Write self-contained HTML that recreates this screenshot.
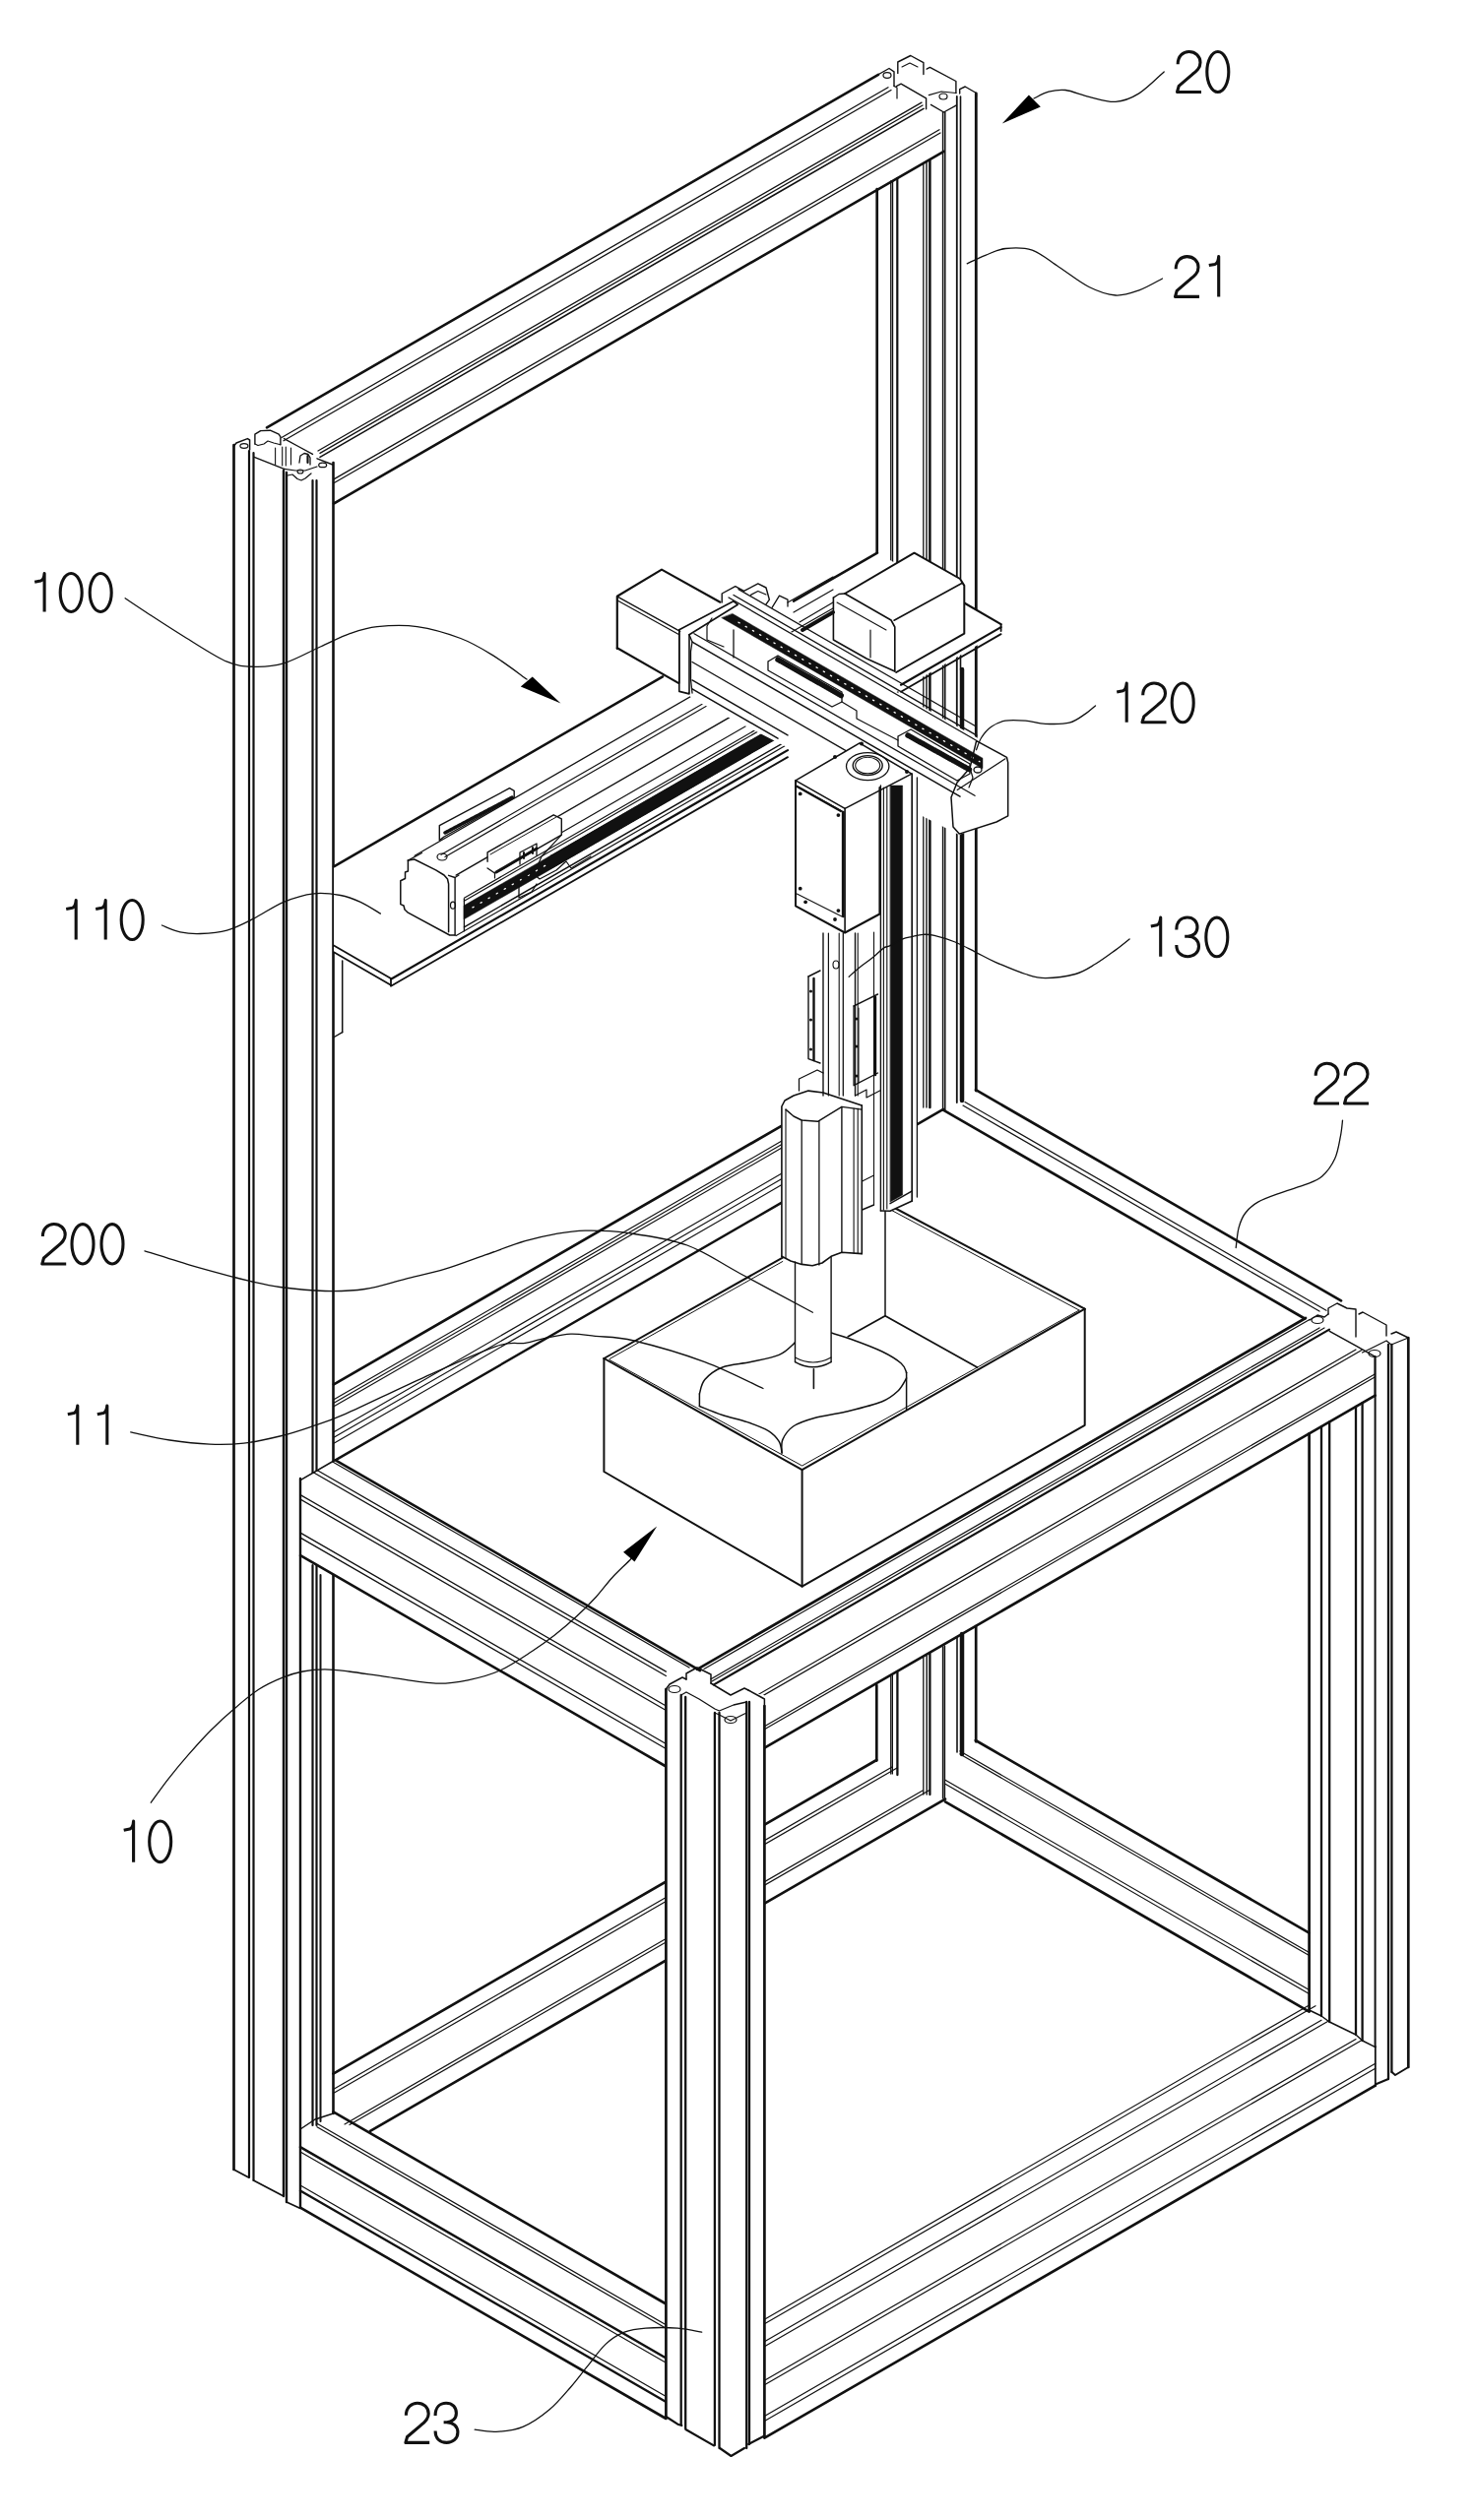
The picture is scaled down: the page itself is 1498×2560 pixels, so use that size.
<!DOCTYPE html>
<html><head><meta charset="utf-8"><style>
html,body{margin:0;padding:0;background:#fff;}
svg{display:block;}
text{font-family:"Liberation Sans",sans-serif;fill:#111;}
</style></head><body>
<svg width="1498" height="2560" viewBox="0 0 1498 2560" xmlns="http://www.w3.org/2000/svg">
<g stroke="#111" stroke-linecap="round" stroke-linejoin="round" fill="none">
<path d="M890.7 192 L890.7 1110" stroke-width="2.7" fill="none"/>
<path d="M904.8 184 L904.8 1110" stroke-width="1.4" fill="none"/>
<path d="M906.6 184 L906.6 1110" stroke-width="1.2" fill="none"/>
<path d="M911.3 181 L911.3 1110" stroke-width="2.2" fill="none"/>
<path d="M937.8 166 L937.8 1125" stroke-width="1.3" fill="none"/>
<path d="M941 165 L941 1125" stroke-width="1.4" fill="none"/>
<path d="M944.4 163 L944.4 1125" stroke-width="2.5" fill="none"/>
<path d="M957.6 114 L957.6 1128" stroke-width="1.5" fill="none"/>
<path d="M959.8 114 L959.8 1128" stroke-width="1.5" fill="none"/>
<path d="M971.8 98 L971.8 1120" stroke-width="1.8" fill="none"/>
<path d="M975.5 98 L975.5 680" stroke-width="1.6" fill="none"/>
<path d="M977 680 L977 1118" stroke-width="4.5" fill="none"/>
<path d="M991.3 95 L991.3 1108" stroke-width="2.8" fill="none"/>
<path d="M892.3 75.5 L903 69.5 L908 72.8 L908 87.4" stroke-width="1.4" fill="none"/>
<ellipse cx="901" cy="76.5" rx="4" ry="2.8" stroke-width="1.2" fill="none"/>
<path d="M911.8 74.4 L911.8 63 L924.8 56.5 L937.9 63.6 L937.9 75.5" stroke-width="1.4" fill="none"/>
<path d="M916 68 L924 64 L932 68" stroke-width="1.1" fill="none"/>
<path d="M941.1 70.1 L944.4 68.4 L970.9 82.5 L970.9 94.5" stroke-width="1.4" fill="none"/>
<path d="M974.7 95 L974.7 90.7 L980.2 88 L991.5 94.5 L991.5 98" stroke-width="1.4" fill="none"/>
<path d="M910.7 87.4 L915.1 85.2 L940.6 99.9 L940.6 110.7" stroke-width="1.4" fill="none"/>
<path d="M945.4 106.4 L958.5 114 L971.5 106.9" stroke-width="1.3" fill="none"/>
<path d="M943.3 96.6 L956 93 L970.9 94.5" stroke-width="1.2" fill="none"/>
<ellipse cx="958" cy="98" rx="4" ry="3" stroke-width="1.2" fill="none"/>
<path d="M908 87.4 L911 89 L911 100" stroke-width="1.2" fill="none"/>
<path d="M237.3 453.5 L240 450 L251.4 445.6 L253.6 447 L253.6 457" stroke-width="1.5" fill="none"/>
<ellipse cx="247.9" cy="453" rx="4" ry="2.3" stroke-width="1.2" fill="none"/>
<path d="M258.9 451 L258.9 441.2 L264.7 437.6 L274.4 437.2 L283.2 441.2 L284.9 443.8 L284.9 451.7" stroke-width="1.4" fill="none"/>
<path d="M258.9 451 L262 452.5 L268 451 L272 448 L278 450 L284.9 451.7" stroke-width="1.1" fill="none"/>
<path d="M257.6 464.1 L288.5 476.4" stroke-width="1.4" fill="none"/>
<path d="M288.5 445.6 L303 453.5 L317.5 461.4" stroke-width="1.4" fill="none"/>
<path d="M322 465.8 L337.8 472" stroke-width="1.4" fill="none"/>
<ellipse cx="327.7" cy="472.4" rx="4" ry="2.3" stroke-width="1.2" fill="none"/>
<path d="M279.6 455 L279.6 472" stroke-width="1.1" fill="none"/>
<path d="M286.7 454 L286.7 473" stroke-width="1.1" fill="none"/>
<path d="M290.3 454 L290.3 473" stroke-width="1.1" fill="none"/>
<path d="M295.5 455 L295.5 472" stroke-width="1.1" fill="none"/>
<path d="M288.5 476.4 L300 478 L310 478 L322 474" stroke-width="1.2" fill="none"/>
<path d="M304 470 L305 463 L309 460.5 L313 461.5 L315 465 L315 472" stroke-width="1.3" fill="none"/>
<path d="M312.5 463 L312.5 470" stroke-width="2.2" fill="none"/>
<path d="M292 483 L297 482 L302 486.5 L306 488 L310 486 L316 481" stroke-width="1.2" fill="none"/>
<ellipse cx="305" cy="479" rx="3" ry="2" stroke-width="1.1" fill="none"/>
<path d="M890.3 1712 L890.3 1788.6" stroke-width="2.7" fill="none"/>
<path d="M904.8 1703 L904.8 1802" stroke-width="1.4" fill="none"/>
<path d="M906.4 1702 L906.4 1802" stroke-width="1.2" fill="none"/>
<path d="M911.4 1699 L911.4 1803" stroke-width="2.3" fill="none"/>
<path d="M937.8 1684 L937.8 1823" stroke-width="1.3" fill="none"/>
<path d="M941.2 1682 L941.2 1823" stroke-width="1.4" fill="none"/>
<path d="M944.4 1680 L944.4 1823" stroke-width="2.3" fill="none"/>
<path d="M957.6 1673 L957.6 1827" stroke-width="1.5" fill="none"/>
<path d="M959.4 1672 L959.4 1827" stroke-width="1.5" fill="none"/>
<path d="M972 1663 L972 1780" stroke-width="1.6" fill="none"/>
<path d="M977 1660 L977 1782" stroke-width="4.5" fill="none"/>
<path d="M991.2 1652 L991.2 1769.3" stroke-width="2.7" fill="none"/>
<path d="M271 434.3 L892 75.8" stroke-width="2.6" fill="none"/>
<path d="M286 444.5 L902 88.8" stroke-width="1.3" fill="none"/>
<path d="M288 447.7 L905 91.5" stroke-width="1.3" fill="none"/>
<path d="M323 458 L936 104.1" stroke-width="1.3" fill="none"/>
<path d="M325 460.4 L937 107" stroke-width="1.3" fill="none"/>
<path d="M325 464.4 L938 110.4" stroke-width="1.6" fill="none"/>
<path d="M339 486.9 L954 131.8" stroke-width="1.3" fill="none"/>
<path d="M339 490.7 L955 135" stroke-width="1.3" fill="none"/>
<path d="M339 511.5 L958.5 153.8" stroke-width="2.6" fill="none"/>
<path d="M237.5 452 L237.5 2204" stroke-width="2.7" fill="none"/>
<path d="M253 458 L253 2212" stroke-width="2.2" fill="none"/>
<path d="M257.5 460 L257.5 2215" stroke-width="2.2" fill="none"/>
<path d="M288 478 L288 2231" stroke-width="2.4" fill="none"/>
<path d="M291 480 L291 2237" stroke-width="2.4" fill="none"/>
<path d="M317.5 488 L317.5 1496" stroke-width="2.2" fill="none"/>
<path d="M317.5 1590 L317.5 2159" stroke-width="2.2" fill="none"/>
<path d="M321.5 488 L321.5 1494" stroke-width="2.2" fill="none"/>
<path d="M321.5 1590 L321.5 2159" stroke-width="2.2" fill="none"/>
<path d="M325.5 1600 L325.5 2155" stroke-width="2" fill="none"/>
<path d="M338.5 470 L338.5 1484" stroke-width="2.6" fill="none"/>
<path d="M338.5 1600 L338.5 2147" stroke-width="2.6" fill="none"/>
<path d="M305 1502 L305 2243" stroke-width="2.4" fill="none"/>
<path d="M237.5 2204 L252.5 2212" stroke-width="1.8" fill="none"/>
<path d="M257.5 2215 L287 2230.5" stroke-width="1.8" fill="none"/>
<path d="M291 2237 L304 2243" stroke-width="1.8" fill="none"/>
<path d="M339 1406.3 L794 1143.6" stroke-width="2.7" fill="none"/>
<path d="M339 1421.8 L794 1159.1" stroke-width="1.2" fill="none"/>
<path d="M339 1425.3 L794 1162.6" stroke-width="1.2" fill="none"/>
<path d="M339 1428.8 L794 1166.1" stroke-width="1.2" fill="none"/>
<path d="M339 1454.8 L794 1192.1" stroke-width="1.2" fill="none"/>
<path d="M339 1460.3 L794 1197.6" stroke-width="1.2" fill="none"/>
<path d="M339 1466.3 L794 1203.6" stroke-width="1.2" fill="none"/>
<path d="M341 1483.1 L794 1221.6" stroke-width="2.4" fill="none"/>
<path d="M926 1145.4 L958 1126.9" stroke-width="2.5" fill="none"/>
<path d="M991 1107.2 L1362 1321.4" stroke-width="2.7" fill="none"/>
<path d="M980 1119.4 L1347 1331.3" stroke-width="1.2" fill="none"/>
<path d="M978 1123.1 L1340 1332.1" stroke-width="1.2" fill="none"/>
<path d="M958 1127.6 L1325 1339.5" stroke-width="2.7" fill="none"/>
<path d="M338.5 2106.6 L890.2 1788" stroke-width="2.7" fill="none"/>
<path d="M338.5 2122.6 L906 1794.9" stroke-width="1.2" fill="none"/>
<path d="M338.5 2126.6 L911 1796" stroke-width="1.2" fill="none"/>
<path d="M350 2157.9 L937 1819" stroke-width="1.2" fill="none"/>
<path d="M355 2158.5 L944 1818.5" stroke-width="1.2" fill="none"/>
<path d="M376 2164.9 L960 1827.7" stroke-width="2.7" fill="none"/>
<path d="M990.8 1768 L1329.6 1963.6" stroke-width="2.7" fill="none"/>
<path d="M975 1778.9 L1329.6 1983.6" stroke-width="1.2" fill="none"/>
<path d="M975 1781.9 L1329.6 1986.6" stroke-width="1.2" fill="none"/>
<path d="M960 1808.3 L1329.6 2021.6" stroke-width="1.2" fill="none"/>
<path d="M960 1812.3 L1329.6 2025.6" stroke-width="1.2" fill="none"/>
<path d="M960 1830.3 L1329.6 2043.6" stroke-width="2.7" fill="none"/>
<path d="M339 880 L891 561.6 L1016.6 634.2 L1016.6 641.5 L397 1001 L339 967 Z" stroke="none" fill="#fff"/>
<path d="M339 880.3 L673 687.4" stroke-width="2.5" fill="none"/>
<path d="M806 610.7 L891 561.6" stroke-width="2.5" fill="none"/>
<path d="M397 994.8 L800 762.1" stroke-width="2.2" fill="none"/>
<path d="M397 1001.8 L800 769.1" stroke-width="1.8" fill="none"/>
<path d="M915 695.7 L1016.6 637.1" stroke-width="2.2" fill="none"/>
<path d="M915 702.7 L1016.6 644.1" stroke-width="1.8" fill="none"/>
<path d="M339 960.5 L397 994" stroke-width="1.8" fill="none"/>
<path d="M339 967.2 L397 1000.7" stroke-width="1.8" fill="none"/>
<path d="M397 994 L397 1001" stroke-width="1.8" fill="none"/>
<path d="M1016.6 634.2 L1016.6 641" stroke-width="1.8" fill="none"/>
<path d="M978 611.8 L1016.6 634.1" stroke-width="2.2" fill="none"/>
<path d="M347.7 976 L347.7 1048.7" stroke-width="1.5" fill="none"/>
<path d="M347.7 1048.7 L338.5 1054" stroke-width="1.4" fill="none"/>
<path d="M846 600 L858 603 L928.5 561.7 L979.3 590 L979.3 648 L910.2 683 L846 650 Z" stroke="none" fill="#fff"/>
<path d="M858 603 L928.5 561.7 L975 588 L979.3 594.9 L979.3 643.7 L910.2 683" stroke-width="2" fill="none"/>
<path d="M908 630.2 L977.3 592.2" stroke-width="1.6" fill="none"/>
<path d="M858 603 L905 630 L908.8 637 L908.8 682" stroke-width="1.6" fill="none"/>
<path d="M846.4 607.1 L846.4 650 L880 669 L908.8 682" stroke-width="1.6" fill="none"/>
<path d="M846.4 607.1 L852 603.5 L858 603" stroke-width="1.4" fill="none"/>
<path d="M850 612 L900 640" stroke-width="1.1" fill="none"/>
<path d="M884 640 L884 668" stroke-width="1.2" fill="none"/>
<path d="M800 612 L846 586" stroke-width="1.2" fill="none"/>
<path d="M806 622 L846 599" stroke-width="1.2" fill="none"/>
<path d="M812 632 L846 612" stroke-width="1.2" fill="none"/>
<path d="M815 640 L846 622" stroke-width="4" fill="none"/>
<path d="M790 650 L846 618" stroke-width="1.2" fill="none"/>
<path d="M446.3 853.6 L446.3 838.6 L517.5 800.7 L522.2 803.4 L522.2 810.2 L451 850 L446.3 853.6" stroke-width="1.4" fill="none"/>
<path d="M452 846 L520 810" stroke-width="3.5" stroke-dasharray="1.3 1.1" fill="none"/>
<path d="M406.8 894.7 L414.4 874.1 L428.5 866.5 L455.6 880 L462.1 889 L471.4 890 L471.4 946 L462.1 950 L456.7 950 L406.8 921 Z" stroke="none" fill="#fff"/>
<path d="M414.4 874.1 L420.9 873 L442.6 883.9 L451 889 L454.5 893 L455.6 898 L455.6 946.8" stroke-width="1.5" fill="none"/>
<path d="M414.4 874.1 L414.4 885 L411.5 886 L411.5 892.5 L406.8 894.7 L406.8 918.6 L410 920 L411 924 L414.4 927.2 L456.7 950 L462.1 950" stroke-width="1.5" fill="none"/>
<path d="M414.4 874.1 L428.5 866.5" stroke-width="1.3" fill="none"/>
<path d="M455.6 889.3 L462.1 891.5 L462.1 950" stroke-width="1.4" fill="none"/>
<path d="M471.4 913.2 L471.4 945.8" stroke-width="1.3" fill="none"/>
<path d="M462.1 891.5 L466 889" stroke-width="1.2" fill="none"/>
<ellipse cx="460" cy="919.7" rx="2.5" ry="3.5" stroke-width="1.2" fill="none"/>
<ellipse cx="449" cy="870.5" rx="5" ry="3.5" stroke-width="1.2" fill="none"/>
<path d="M421.2 869.3 L800 650.6" stroke-width="1.3" fill="none"/>
<path d="M448 868.3 L790 670.9" stroke-width="1.2" fill="none"/>
<path d="M452 870.5 L790 675.4" stroke-width="1.2" fill="none"/>
<path d="M463.2 889.1 L800 694.6" stroke-width="1.4" fill="none"/>
<path d="M560 851.7 L800 713.1" stroke-width="1.2" fill="none"/>
<path d="M471.4 912.3 L800 722.6" stroke-width="1.2" fill="none"/>
<path d="M471.4 915.3 L800 725.6" stroke-width="1.2" fill="none"/>
<path d="M471.4 919.8 L560 868.7 L560 882.7 L471.4 933.8Z" stroke-width="0.5" fill="#111"/>
<path d="M480 921.9 L555 878.6" stroke="#fff" stroke-width="1.3" stroke-dasharray="1.3 8" fill="none"/>
<path d="M560 875.7 L800 737.1" stroke-width="12" stroke-dasharray="1.6 1.2" fill="none"/>
<path d="M560 869.2 L800 730.6" stroke-width="1.4" fill="none"/>
<path d="M560 882.2 L800 743.6" stroke-width="1.4" fill="none"/>
<path d="M471.4 941.8 L800 752.1" stroke-width="1.4" fill="none"/>
<path d="M463.2 950.6 L800 756.1" stroke-width="1.2" fill="none"/>
<path d="M495.1 865.8 L562.2 827.8 L570.3 831.9 L570.3 852 L502.5 890.2 L495.1 886 Z" stroke="none" fill="#fff"/>
<path d="M495.1 875.3 L495.1 865.8 L562.2 827.8 L570.3 831.9 L570.3 848.1 L502.5 887 L495.1 882" stroke-width="1.4" fill="none"/>
<path d="M502.5 887 L502.5 892" stroke-width="1.2" fill="none"/>
<path d="M498 868 L565 830" stroke-width="1" fill="none"/>
<path d="M504 886 L545 862" stroke-width="3" fill="none"/>
<path d="M528 878 L528 866 L545 857 L545 869" stroke-width="1.3" fill="none"/>
<path d="M532 872 L532 866" stroke-width="2" fill="none"/>
<path d="M541 867 L541 861" stroke-width="2" fill="none"/>
<path d="M570.3 848.1 L550 870 L545 882 L530 893" stroke-width="1.2" fill="none"/>
<path d="M527 893 L540 886 L548 893 L565 884 L575 875 L580 882 L600 870" stroke-width="1.2" fill="none"/>
<path d="M527 893 L527 912 L540 906 L545 898" stroke-width="1.3" fill="none"/>
<path d="M515 898 L535 888" stroke-width="1" fill="none"/>
<path d="M626.8 658.9 L626.8 608.2 L671.6 579.8 L746 609.7 L995 751 L1024 768 L1024 830 L974 848 L703 710 L689.5 693.2 Z" stroke="none" fill="#fff"/>
<path d="M626.8 658.9 L626.8 605.8 L672 578.6 L731.4 611.7" stroke-width="2.2" fill="none"/>
<path d="M628 606.6 L690.7 641.4" stroke-width="1.3" fill="none"/>
<path d="M627.1 610 L689.8 644.7" stroke-width="1.2" fill="none"/>
<path d="M626.8 658.3 L689 693.9" stroke-width="2.2" fill="none"/>
<path d="M689.8 641.4 L689.8 694" stroke-width="1.6" fill="none"/>
<path d="M689.8 639.7 L744.9 610.8 L749.2 614.2 L700 644.7" stroke-width="1.6" fill="none"/>
<path d="M689.8 639.7 L689.8 702.4 L700 704.9 L700 644.7" stroke-width="1.6" fill="none"/>
<path d="M750 598.6 L990 737.2" stroke-width="1.3" fill="none"/>
<path d="M745 604.5 L992 747.1" stroke-width="1.4" fill="none"/>
<path d="M740 607 L992 752.5" stroke-width="1.3" fill="none"/>
<path d="M744 623.5 L998 770.2 L998 780.7 L733 627.7Z" stroke-width="0.5" fill="#111"/>
<path d="M750 632.2 L995 773.7" stroke="#fff" stroke-width="1.3" stroke-dasharray="1.3 7" fill="none"/>
<path d="M705 643.7 L990 808.3" stroke-width="1.3" fill="none"/>
<path d="M703 652.1 L975 809.1" stroke-width="1.5" fill="none"/>
<path d="M703 672.5 L860 763.1" stroke-width="1.3" fill="none"/>
<path d="M703 690.9 L800 746.9" stroke-width="1.4" fill="none"/>
<path d="M703 699.9 L790 750.1" stroke-width="1.5" fill="none"/>
<path d="M700 644.7 L703 652 L701.5 662 L701.5 690 L703 704" stroke-width="1.3" fill="none"/>
<path d="M723 628 L718 636 L718 650 L735 657" stroke-width="1.2" fill="none"/>
<path d="M745 640 L745 668" stroke-width="1.3" fill="none"/>
<path d="M733.2 612 L733.2 603 L746.8 595.6 L755.6 600.3 L769.8 592.9 L778 597 L781.4 609.2 L778 613.9" stroke-width="1.4" fill="none"/>
<path d="M762.4 604.4 L769.8 600.5 L778 604" stroke-width="1.2" fill="none"/>
<path d="M784 617.3 L791.5 605.1 L800 609.2 L800 616" stroke-width="1.3" fill="none"/>
<path d="M780 672 L790 666 L855 703 L855 713 L845 718 L780 681 L780 672" stroke-width="1.3" fill="none"/>
<path d="M790 670 L855 707" stroke-width="5.5" stroke-dasharray="1.4 1.1" fill="none"/>
<path d="M912 748 L925 741 L985 776 L985 786 L972 793 L912 758 L912 748" stroke-width="1.3" fill="none"/>
<path d="M922 747 L985 782" stroke-width="5.5" stroke-dasharray="1.4 1.1" fill="none"/>
<path d="M855 713 L870 722 L870 730 L912 752" stroke-width="1.2" fill="none"/>
<path d="M991.6 752.7 L1022.5 769.3 L1023.7 774.6 L1023.7 828.8 L1012 835 L974.2 847.1 L968 840 L966 810 L972 795 L985 780.3 L991.6 752.7" stroke-width="1.5" fill="none"/>
<path d="M972.2 802.4 L1021 770.8" stroke-width="1.2" fill="none"/>
<path d="M985 780 L988 790 L984 800" stroke-width="1.2" fill="none"/>
<ellipse cx="993" cy="782" rx="4" ry="3" stroke-width="1.3" fill="none"/>
<path d="M613.4 1380 L899 1220 L1101.7 1329.7 L1101.7 1447.8 L814.6 1611.7 L613.4 1495 Z" stroke="none" fill="#fff"/>
<path d="M899 1222 L899 1336.8" stroke-width="1.5" fill="none"/>
<path d="M861.3 1357.7 L899 1336.8 L992.4 1389" stroke-width="1.8" fill="none"/>
<path d="M710.4 1415.9 C711.3 1413.5 711.9 1406 715.8 1401.5 C719.7 1397 725.9 1392 733.7 1389 C741.5 1386 752.9 1385.7 762.5 1383.6 C772.1 1381.5 784 1379.4 791.2 1376.4 C798.4 1373.4 802.1 1368.7 805.6 1365.6 C809.1 1362.5 810.9 1359.3 812 1358" stroke-width="1.5" fill="none"/>
<path d="M844 1354 C847.2 1355 854.5 1356.9 863.1 1360 C871.7 1363.1 886.7 1368.6 895.4 1372.8 C904.1 1377 911 1381.4 915.2 1385 C919.4 1388.6 919.7 1392.8 920.6 1394.3" stroke-width="1.5" fill="none"/>
<path d="M710.4 1415.9 L710.4 1428.5" stroke-width="1.5" fill="none"/>
<path d="M920.6 1394.3 L920.6 1432" stroke-width="1.5" fill="none"/>
<path d="M710.4 1428.5 C714.3 1430 725.6 1434.8 733.7 1437.5 C741.8 1440.2 751.1 1441.9 758.9 1444.6 C766.7 1447.3 775 1450.3 780.4 1453.6 C785.8 1456.9 788.9 1460.7 791.2 1464.4 C793.5 1468.1 793.6 1474.1 794.1 1476" stroke-width="1.5" fill="none"/>
<path d="M794.1 1476 C794.2 1473.8 792.9 1467.1 794.8 1462.6 C796.7 1458.1 800.2 1452.7 805.6 1449 C811 1445.3 818.2 1443 827.2 1440.5 C836.2 1438 848.1 1436.8 859.5 1434 C870.9 1431.2 886.6 1427.5 895.4 1424 C904.1 1420.5 907.8 1417 912 1413 C916.2 1409 919.2 1402.2 920.6 1400" stroke-width="1.5" fill="none"/>
<path d="M613.4 1380 L613.4 1495 L814.6 1611.7 L1101.7 1447.8 L1101.7 1329.7" stroke-width="2" fill="none"/>
<path d="M814.6 1493.2 L814.6 1611.7" stroke-width="2" fill="none"/>
<path d="M613.4 1380 L814.6 1493.2 L1101.7 1329.7" stroke-width="2" fill="none"/>
<path d="M619 1381.5 L814.6 1489 L1096 1331" stroke-width="1" fill="none"/>
<path d="M613.4 1380 L794.8 1277.6" stroke-width="2" fill="none"/>
<path d="M619 1380.5 L794.8 1281.5" stroke-width="1" fill="none"/>
<path d="M899 1222 L1101.7 1329.7" stroke-width="2" fill="none"/>
<path d="M899 1226 L1096 1331" stroke-width="1" fill="none"/>
<path d="M808 792.9 L873 754.9 L925.9 786.1 L931.4 790 L931.4 1215 L926.4 1220 L904 1230.2 L894 1230 L875.3 1273.6 L844.1 1276.3 L844.1 1390 L807.5 1390 L807.5 1280 L793.9 1276.3 L793.9 1119.3 L808 1105 Z" stroke="none" fill="#fff"/>
<path d="M808 792.9 L808 920.3 L858.1 947.5 L893.4 928.5 L893.4 800" stroke-width="2" fill="none"/>
<path d="M808 792.9 L858.1 821.4 L925.9 786.1 L873 754.9 L808 792.9" stroke-width="1.6" fill="none"/>
<path d="M858.1 821.4 L858.1 947.5" stroke-width="1.6" fill="none"/>
<path d="M809.3 798.3 L855.4 824" stroke-width="1" fill="none"/>
<path d="M809.5 799 L854 824" stroke-width="2.2" fill="none"/>
<path d="M855.4 824 L855.4 931.2 L809.3 908.1" stroke-width="1.1" fill="none"/>
<path d="M856.5 825 L856.5 931" stroke-width="2.6" fill="none"/>
<g fill="#111" stroke="none"><circle cx="812.7" cy="806.4" r="1.9"/><circle cx="851.4" cy="828.1" r="1.9"/><circle cx="812.7" cy="902.7" r="1.9"/><circle cx="851.4" cy="925.1" r="1.9"/><circle cx="818.1" cy="916.3" r="1.9"/><circle cx="848" cy="934" r="1.9"/></g>
<ellipse cx="881.2" cy="778.6" rx="21.7" ry="14" stroke-width="1.3" fill="none"/>
<ellipse cx="881.2" cy="777.6" rx="15" ry="10" stroke-width="1.4" fill="none"/>
<ellipse cx="881.2" cy="777.6" rx="12.5" ry="8.3" stroke-width="1.1" fill="none"/>
<g fill="#111" stroke="none"><circle cx="848" cy="769" r="2"/><circle cx="875" cy="755.5" r="2"/><circle cx="921" cy="784" r="2"/></g>
<path d="M894.4 798 L894.4 1230" stroke-width="1.4" fill="none"/>
<path d="M897.4 800 L897.4 1229" stroke-width="1.1" fill="none"/>
<path d="M900.8 800 L900.8 1228" stroke-width="1.1" fill="none"/>
<path d="M904.2 798 L916.6 798 L916.6 1214 L904.2 1221Z" stroke-width="0.5" fill="#111"/>
<path d="M926.2 786 L926.2 1220" stroke-width="1.7" fill="none"/>
<path d="M931.4 790 L931.4 1216" stroke-width="1.3" fill="none"/>
<path d="M904 1222.7 L926.4 1209.8" stroke-width="1.5" fill="none"/>
<path d="M894.4 1230 L904 1230.2 L926.4 1220" stroke-width="1.6" fill="none"/>
<path d="M887.5 947 L887.5 1224" stroke-width="1.1" fill="none"/>
<path d="M875.6 1200 L887.5 1194" stroke-width="1.1" fill="none"/>
<path d="M875.6 1229 L887.5 1224" stroke-width="1.4" fill="none"/>
<path d="M836 948 L836 1113" stroke-width="1.4" fill="none"/>
<path d="M841.4 948 L841.4 1113" stroke-width="1.2" fill="none"/>
<path d="M852.2 948 L852.2 1113" stroke-width="1.1" fill="none"/>
<path d="M856.3 948 L856.3 1113" stroke-width="1.3" fill="none"/>
<path d="M868.5 948 L868.5 1113" stroke-width="1.4" fill="none"/>
<path d="M871.2 948 L871.2 1113" stroke-width="1.1" fill="none"/>
<ellipse cx="849" cy="980" rx="3" ry="4" stroke-width="1.1" fill="none"/>
<path d="M821 992 L821 1075.6 L833 1080" stroke-width="1.4" fill="none"/>
<path d="M821 992 L833 986" stroke-width="1.4" fill="none"/>
<path d="M826.5 994 L826.5 1077" stroke-width="2.4" fill="none"/>
<path d="M867.1 1022 L867.1 1102.7 L891.5 1090" stroke-width="1.4" fill="none"/>
<path d="M867.1 1022 L891.5 1010" stroke-width="1.4" fill="none"/>
<path d="M872 1024 L872 1100" stroke-width="1.1" fill="none"/>
<path d="M889 1013 L889 1092" stroke-width="2.4" fill="none"/>
<g fill="#111" stroke="none"><circle cx="823.5" cy="1007" r="1.5"/><circle cx="823.5" cy="1036" r="1.5"/><circle cx="823.5" cy="1066" r="1.5"/><circle cx="870" cy="1035" r="1.5"/><circle cx="870" cy="1063" r="1.5"/><circle cx="870" cy="1093" r="1.5"/></g>
<path d="M811.5 1108 L811.5 1096 L830 1087 L836 1090" stroke-width="1.3" fill="none"/>
<path d="M868.5 1113 L880 1107 L880 1115 L893.6 1108" stroke-width="1.2" fill="none"/>
<path d="M793.9 1276.3 L793.9 1124 L797 1118 L806 1113 L821 1108.1 L836 1110 L875.3 1123" stroke-width="1.6" fill="none"/>
<path d="M798 1127.1 L806 1134 L814.2 1138 L830.5 1139.3 L854.9 1124.4 L875.3 1127.1" stroke-width="1.4" fill="none"/>
<path d="M798 1127 L798 1278" stroke-width="1.1" fill="none"/>
<path d="M814.2 1138 L814.2 1284" stroke-width="1.3" fill="none"/>
<path d="M831.9 1139 L831.9 1285" stroke-width="1.3" fill="none"/>
<path d="M854.9 1124.4 L854.9 1272" stroke-width="1.4" fill="none"/>
<path d="M867.1 1126 L867.1 1273" stroke-width="1.1" fill="none"/>
<path d="M871.2 1126 L871.2 1273" stroke-width="1.1" fill="none"/>
<path d="M875.3 1123 L875.3 1273.6" stroke-width="1.6" fill="none"/>
<path d="M793.9 1276.3 L803 1281 L814.2 1284.4 L825.1 1285.8 L835 1283 L844.1 1276.3 L854.9 1272.2 L875.3 1273.6" stroke-width="1.6" fill="none"/>
<path d="M807.5 1282 L807.5 1383.6" stroke-width="1.4" fill="none"/>
<path d="M844.1 1277 L844.1 1383.6" stroke-width="1.4" fill="none"/>
<path d="M807.5 1383.6 Q825.8 1394 844.1 1383.6" stroke-width="1.4" fill="none"/>
<path d="M807.5 1379 Q825.8 1389 844.1 1379" stroke-width="1.1" fill="none"/>
<path d="M826.4 1390.8 L826.4 1410.5" stroke-width="1.6" fill="none"/>
<path d="M340.7 1483.3 L711 1697.1" stroke-width="2.6" fill="none"/>
<path d="M337.8 1485 L700 1694.1" stroke-width="1.2" fill="none"/>
<path d="M322.5 1493.8 L676.4 1698.1" stroke-width="1.3" fill="none"/>
<path d="M318.7 1496 L676.4 1702.5" stroke-width="1.3" fill="none"/>
<path d="M305.1 1518.6 L676.4 1733" stroke-width="1.3" fill="none"/>
<path d="M305.1 1523.1 L676.4 1737.5" stroke-width="1.3" fill="none"/>
<path d="M305.1 1557.1 L676.4 1771.5" stroke-width="1.3" fill="none"/>
<path d="M305.1 1562.1 L676.4 1776.5" stroke-width="1.3" fill="none"/>
<path d="M305.1 1580.1 L676.4 1794.5" stroke-width="2.6" fill="none"/>
<path d="M305.1 1580.2 L305.1 1503.6 L340.7 1483" stroke-width="1.6" fill="none"/>
<path d="M708 1695.8 L1326 1339" stroke-width="2.7" fill="none"/>
<path d="M715 1695.5 L1330 1340.4" stroke-width="1.2" fill="none"/>
<path d="M722 1705.7 L1340 1348.9" stroke-width="1.2" fill="none"/>
<path d="M723 1708.1 L1345 1349" stroke-width="1.2" fill="none"/>
<path d="M725 1711.4 L1350 1350.6" stroke-width="2.2" fill="none"/>
<path d="M758 1728.4 L1377 1371" stroke-width="1.2" fill="none"/>
<path d="M761 1730.6 L1383 1371.5" stroke-width="1.2" fill="none"/>
<path d="M776.4 1753.7 L1396.6 1395.7" stroke-width="1.2" fill="none"/>
<path d="M776.4 1756.7 L1396.6 1398.7" stroke-width="1.2" fill="none"/>
<path d="M776.4 1775.7 L1396.6 1417.7" stroke-width="2.7" fill="none"/>
<path d="M1350.3 1352.4 L1377.5 1367.3 L1396.4 1378.1 L1396.4 1418.8" stroke-width="1.5" fill="none"/>
<path d="M338.5 2145.4 L676.4 2340.5" stroke-width="2.6" fill="none"/>
<path d="M322 2157.2 L676.4 2361.8" stroke-width="1.3" fill="none"/>
<path d="M322 2160.7 L676.4 2365.3" stroke-width="1.3" fill="none"/>
<path d="M305 2181.1 L676.4 2395.5" stroke-width="2.5" fill="none"/>
<path d="M305 2185.9 L676.4 2400.3" stroke-width="1.2" fill="none"/>
<path d="M305 2220.1 L676.4 2434.5" stroke-width="1.2" fill="none"/>
<path d="M305 2225.5 L676.4 2439.9" stroke-width="2.3" fill="none"/>
<path d="M305 2242.6 L676.4 2457" stroke-width="2.6" fill="none"/>
<path d="M305 2163 L320 2153 L338.5 2147" stroke-width="1.5" fill="none"/>
<path d="M776.4 2356.2 L1329.6 2036.9" stroke-width="1.2" fill="none"/>
<path d="M776.4 2360.7 L1336 2037.7" stroke-width="1.2" fill="none"/>
<path d="M776.4 2378.7 L1342 2052.2" stroke-width="1.2" fill="none"/>
<path d="M776.4 2383.7 L1350.2 2052.5" stroke-width="1.2" fill="none"/>
<path d="M776.4 2418.2 L1377 2071.5" stroke-width="1.2" fill="none"/>
<path d="M776.4 2422.7 L1383.6 2072.2" stroke-width="1.2" fill="none"/>
<path d="M776.4 2454.4 L1396.8 2096.3" stroke-width="1.2" fill="none"/>
<path d="M776.4 2459.4 L1396.8 2101.3" stroke-width="1.2" fill="none"/>
<path d="M776.4 2476.7 L1396.8 2118.6" stroke-width="2.7" fill="none"/>
<path d="M1396.8 2079 L1396.8 2119" stroke-width="1.8" fill="none"/>
<path d="M1329.6 2042 L1342 2048 L1350.2 2054 L1377 2067 L1383.6 2073 L1396.8 2079.6" stroke-width="1.5" fill="none"/>
<path d="M676.4 1705 L776.4 1722 L776.4 2475 L742.5 2495 L676.4 2455 Z" stroke="none" fill="#fff"/>
<path d="M676.4 1716 L676.4 2455" stroke-width="2.7" fill="none"/>
<path d="M691.7 1722 L691.7 2463" stroke-width="2.3" fill="none"/>
<path d="M696.2 1724 L696.2 2467" stroke-width="2.3" fill="none"/>
<path d="M725.9 1740 L725.9 2484" stroke-width="2.3" fill="none"/>
<path d="M730.5 1740 L730.5 2487" stroke-width="2.3" fill="none"/>
<path d="M758.2 1729 L758.2 2487" stroke-width="2.3" fill="none"/>
<path d="M761 1729 L761 2483" stroke-width="2.3" fill="none"/>
<path d="M776.4 1733 L776.4 2475" stroke-width="2.7" fill="none"/>
<path d="M676.4 2455 L688.3 2462.7 L692.4 2464" stroke-width="2.2" fill="none"/>
<path d="M696.4 2468 L724.9 2484.4" stroke-width="2.2" fill="none"/>
<path d="M731 2487 L742.5 2495 L756 2487" stroke-width="2.2" fill="none"/>
<path d="M760.2 2483 L776.4 2474.5" stroke-width="2.2" fill="none"/>
<path d="M676.4 1716 L680 1711 L693 1704 L697 1706" stroke-width="1.5" fill="none"/>
<path d="M697 1706 L697 1700 L708 1694 L722 1701 L722 1710" stroke-width="1.5" fill="none"/>
<path d="M722 1710 L742 1722 L756 1715 L760 1717" stroke-width="1.5" fill="none"/>
<path d="M760 1717 L771 1723 L776.4 1726 L776.4 1733" stroke-width="1.5" fill="none"/>
<path d="M691.7 1722 L697 1719 L710 1726 L725.9 1736 L730.5 1738 L745 1732 L758.2 1729" stroke-width="1.3" fill="none"/>
<path d="M725.9 1740 L730.5 1742 L742 1748 L758.2 1740" stroke-width="1.3" fill="none"/>
<ellipse cx="685" cy="1716" rx="6" ry="3.5" stroke-width="1.2" fill="none"/>
<ellipse cx="742" cy="1747" rx="6" ry="3.5" stroke-width="1.2" fill="none"/>
<path d="M1329.6 1456.4 L1329.6 2042" stroke-width="2.7" fill="none"/>
<path d="M1342 1449.2 L1342 2048" stroke-width="2.3" fill="none"/>
<path d="M1350.2 1444.5 L1350.2 2054" stroke-width="2.3" fill="none"/>
<path d="M1377 1429 L1377 2067" stroke-width="2.3" fill="none"/>
<path d="M1383.6 1425.2 L1383.6 2073" stroke-width="2.3" fill="none"/>
<path d="M1396.6 1378 L1396.6 2079" stroke-width="2" fill="none"/>
<path d="M1410 1366 L1410 2112" stroke-width="2.3" fill="none"/>
<path d="M1413.4 1366 L1413.4 2105" stroke-width="2.3" fill="none"/>
<path d="M1430.3 1359 L1430.3 2100" stroke-width="2.7" fill="none"/>
<path d="M1413.6 2105 L1417 2108 L1430.3 2100" stroke-width="2" fill="none"/>
<path d="M1396.8 2117.5 L1410 2112" stroke-width="2" fill="none"/>
<path d="M1330 1341 L1338 1336 L1345 1338 L1349 1335" stroke-width="1.4" fill="none"/>
<path d="M1349 1335 L1349 1329 L1358 1324 L1368 1329 L1377 1330 L1377 1358" stroke-width="1.4" fill="none"/>
<path d="M1380 1335 L1384 1333 L1408 1346 L1408 1357" stroke-width="1.4" fill="none"/>
<path d="M1413 1355 L1418 1353 L1430.3 1359" stroke-width="1.4" fill="none"/>
<path d="M1383.6 1374 L1392 1370 L1408 1362 L1413 1366 L1430.3 1359" stroke-width="1.3" fill="none"/>
<ellipse cx="1338" cy="1341" rx="6" ry="3.5" stroke-width="1.2" fill="none"/>
<ellipse cx="1396" cy="1375" rx="6" ry="3.5" stroke-width="1.2" fill="none"/>
<path d="M1182.2 72.9 C1178 76.6 1165 89.8 1156.8 94.9 C1148.6 100 1141.5 102.8 1133 103.4 C1124.5 104 1114.5 100.3 1106 98.3 C1097.5 96.3 1088.8 92.3 1082 91.5 C1075.2 90.7 1070.3 91.8 1065 93.2 C1059.7 94.6 1052.5 98.9 1050 100" stroke-width="1.3" fill="none"/>
<path d="M1017.8 125.4 L1044.9 96.6 L1056.8 108.5 Z" stroke="none" fill="#000"/>
<path d="M1180.5 283 C1176.5 285 1164.7 292.1 1156.8 294.9 C1148.9 297.7 1141.5 300.6 1133 300 C1124.5 299.4 1115.6 296.3 1106 291.5 C1096.4 286.7 1085 277.4 1075.4 271.2 C1065.8 265 1057.3 257.3 1048.3 254.2 C1039.3 251.1 1029.1 251.7 1021.2 252.5 C1013.3 253.3 1007.3 256.8 1000.8 259.3 C994.3 261.9 985.3 266.4 982.2 267.8" stroke-width="1.3" fill="none"/>
<path d="M127.1 607.8 C131.3 610.6 142.1 617.9 152.5 624.7 C162.9 631.5 176.8 640.6 189.8 648.5 C202.8 656.4 219.2 667.4 230.5 672.2 C241.8 677 248 677 257.6 677.3 C267.2 677.6 276.8 677.3 288.1 673.9 C299.4 670.5 314.1 662.1 325.4 657 C336.7 651.9 346.3 646.8 355.9 643.4 C365.5 640 371.7 637.7 383 636.6 C394.3 635.5 409.6 634.6 423.7 636.6 C437.8 638.6 455.1 643.7 467.8 648.5 C480.5 653.3 488.8 658.5 500 665.4 C511.2 672.3 529.2 685.9 535 690" stroke-width="1.3" fill="none"/>
<path d="M569.5 714.6 L528.8 697.6 L540.7 687.5 Z" stroke="none" fill="#000"/>
<path d="M164.4 940 C167.5 941.1 176.5 945.4 183 946.8 C189.5 948.2 195.5 948.8 203.4 948.5 C211.3 948.2 221.5 947.6 230.5 945.1 C239.5 942.6 248 938 257.6 933.2 C267.2 928.4 277.9 920.5 288.1 916.3 C298.3 912.1 309 908.9 318.6 907.8 C328.2 906.7 337.9 908.1 345.8 909.5 C353.7 910.9 359.3 913.2 366.1 916.3 C372.9 919.4 383 926.1 386.4 928.1" stroke-width="1.3" fill="none"/>
<path d="M1112.5 717 C1110.8 718.4 1106.8 722.2 1102.4 725.1 C1098 728 1092.9 732.5 1086.1 734.2 C1079.3 735.9 1069.2 735.6 1061.7 735.3 C1054.2 735 1048.2 732.7 1041.4 732.2 C1034.6 731.7 1026.8 731.2 1021 732.2 C1015.2 733.2 1010.9 735.4 1006.8 738.3 C1002.7 741.2 999.1 745.6 996.6 749.5 C994.1 753.4 992.4 759.7 991.5 761.7" stroke-width="1.3" fill="none"/>
<path d="M1147.1 953.9 C1144.7 955.8 1138.7 960.9 1132.9 965.1 C1127.1 969.3 1119.3 975.2 1112.5 979.3 C1105.7 983.4 1100.7 987.1 1092.2 989.5 C1083.7 991.9 1070.2 993.6 1061.7 993.6 C1053.2 993.6 1049.9 992.2 1041.4 989.5 C1032.9 986.8 1019.3 981 1010.8 977.3 C1002.3 973.6 997.3 970.5 990.5 967.1 C983.7 963.7 976.9 959.8 970 957 C963.1 954.2 954.4 951.7 949 950.4 C943.6 949.1 941.3 949.1 937.5 949.3 C933.7 949.5 929.5 950.8 926 951.6 C922.5 952.4 920.5 952.4 916.8 953.9 C913.1 955.4 906.9 959.3 903.6 960.8 C900.4 962.3 900.1 961.2 897.3 963.1 C894.5 965 890.9 969 886.9 972.3 C882.9 975.6 877.1 979.4 873 982.7 C868.9 986 864 990.6 862.2 992.2" stroke-width="1.3" fill="none"/>
<path d="M1363.5 1138.1 C1363.2 1140.8 1362.7 1147.9 1361.4 1154.4 C1360.1 1160.9 1358.8 1170.3 1355.7 1177.1 C1352.6 1183.9 1347.6 1190.7 1342.7 1195 C1337.8 1199.3 1333.2 1200.5 1326.4 1203.2 C1319.6 1205.9 1310.1 1208.3 1302 1211.3 C1293.9 1214.3 1283.8 1217.6 1277.6 1221.1 C1271.4 1224.6 1267.8 1228.2 1264.6 1232.5 C1261.3 1236.8 1259.7 1241.3 1258.1 1247.1 C1256.5 1252.9 1255.7 1264.1 1255.2 1267.5" stroke-width="1.3" fill="none"/>
<path d="M147 1270.8 C154.6 1273.2 178.3 1280.8 192.7 1285.1 C207.1 1289.3 223.2 1293.6 233.4 1296.3 C243.6 1299 245.2 1299.5 253.7 1301.4 C262.2 1303.3 271.5 1305.8 284.2 1307.5 C296.9 1309.2 315.6 1311.2 330 1311.5 C344.4 1311.8 357.1 1311.5 370.7 1309.5 C384.3 1307.5 397.8 1302.7 411.4 1299.3 C424.9 1295.9 438.4 1293.3 452 1289.2 C465.6 1285.1 479.1 1279.7 492.7 1274.9 C506.3 1270.2 521.5 1264.2 533.4 1260.7 C545.3 1257.2 553.7 1255.4 563.9 1253.6 C574.1 1251.8 582.3 1250.3 594.4 1250.1 C606.5 1249.9 619.5 1249.9 636.7 1252.4 C653.9 1254.9 678.6 1258.1 697.8 1265 C717 1271.9 730.4 1282.3 751.7 1293.7 C773 1305.1 813.1 1326.7 825.4 1333.3" stroke-width="1.3" fill="none"/>
<path d="M132.7 1454.9 C139.3 1456.2 159 1461 172.4 1463 C185.8 1465 200.5 1466.6 213 1467.1 C225.5 1467.6 235.7 1467.4 247.6 1466.1 C259.5 1464.8 273 1461.7 284.2 1459 C295.4 1456.3 303.6 1453.6 314.7 1449.8 C325.8 1446 332.1 1444.6 350.8 1436.4 C369.5 1428.2 401.7 1412.2 427.1 1400.8 C452.5 1389.4 485.7 1373.9 503.4 1367.8 C521.1 1361.7 525 1365.8 533.4 1364.4 C541.8 1363 546 1360.8 553.7 1359.3 C561.4 1357.8 571.2 1355.4 579.7 1355.1 C588.2 1354.8 593.9 1356.1 604.6 1357.3 C615.3 1358.5 625.4 1357.6 643.9 1362 C662.4 1366.4 693.9 1375.5 715.8 1383.6 C737.6 1391.7 765.1 1406 775 1410.5" stroke-width="1.3" fill="none"/>
<path d="M153.3 1831.2 C156.3 1827.1 164.8 1814.9 171.2 1806.8 C177.6 1798.7 184.4 1790.5 191.5 1782.4 C198.6 1774.3 206.1 1765.8 213.9 1758 C221.7 1750.2 230.2 1742.5 238.3 1735.6 C246.4 1728.6 254.6 1721.5 262.7 1716.3 C270.8 1711 279.6 1707.1 287.1 1704.1 C294.6 1701 300.4 1699.4 307.5 1698 C314.6 1696.6 322 1695.9 329.8 1695.9 C337.6 1695.9 343.5 1696.7 354.2 1698 C364.9 1699.3 379.1 1701.6 393.9 1703.6 C408.6 1705.6 429.1 1709.6 442.7 1710.1 C456.2 1710.6 464.3 1709 475.2 1706.8 C486.1 1704.6 497 1701.9 507.8 1697 C518.6 1692.1 531.1 1683.5 540.3 1677.5 C549.5 1671.5 555.5 1667.2 563.1 1661.3 C570.7 1655.3 578.9 1648.3 585.9 1641.8 C592.9 1635.3 599.4 1628.7 605.4 1622.2 C611.4 1615.7 615.7 1609.2 621.7 1602.7 C627.7 1596.2 636.5 1588.3 641.2 1583.2 C645.9 1578.1 648.5 1573.9 650 1572" stroke-width="1.3" fill="none"/>
<path d="M667.2 1550.6 L633.1 1576.7 L644.5 1586.4 Z" stroke="none" fill="#000"/>
<path d="M482.2 2468.1 C485.8 2468.5 495.8 2470.8 503.9 2470.3 C512 2469.9 522 2469.2 531 2465.4 C540 2461.7 550 2454.6 558.1 2447.8 C566.2 2441 573.5 2431.9 579.8 2424.7 C586.1 2417.5 590.2 2411.6 596.1 2404.4 C602 2397.2 608.8 2387.3 615.1 2381.4 C621.4 2375.5 627.3 2371.9 634.1 2369.2 C640.9 2366.5 646.8 2365.8 655.8 2365.1 C664.8 2364.4 678.8 2364.4 688.3 2365.1 C697.8 2365.8 708.6 2368.5 712.7 2369.2" stroke-width="1.3" fill="none"/>
</g>
<g stroke="#111" stroke-width="3.1" fill="none" stroke-linecap="butt" stroke-linejoin="round"><path d="M1196.2 65.2 C1196.2 56.8 1201.8 52.5 1207.5 52.5 C1214.0 52.5 1219.0 57.0 1219.0 63.5 C1219.0 69.2 1215.2 72.2 1211.2 75.3 L1197.2 87.4 L1195.5 93.5 L1220.0 93.5"/><ellipse cx="1236.8" cy="73.0" rx="11" ry="20.5"/></g>
<g stroke="#111" stroke-width="3.1" fill="none" stroke-linecap="butt" stroke-linejoin="round"><path d="M1194.2 273.2 C1194.2 264.8 1199.8 260.6 1205.5 260.6 C1212.0 260.6 1217.0 265.0 1217.0 271.5 C1217.0 277.2 1213.2 280.2 1209.2 283.3 L1195.2 295.4 L1193.5 301.4 L1218.0 301.4"/><path d="M1227.8 269.6 L1234.0 268.4 Q1237.2 267.1 1237.7 260.6 L1237.7 301.4"/></g>
<g stroke="#111" stroke-width="3.1" fill="none" stroke-linecap="butt" stroke-linejoin="round"><path d="M35.2 591.2 L41.4 590.0 Q44.6 588.8 45.1 582.5 L45.1 621.5"/><ellipse cx="72.2" cy="602.0" rx="11" ry="19.5"/><ellipse cx="102.2" cy="602.0" rx="11" ry="19.5"/></g>
<g stroke="#111" stroke-width="3.1" fill="none" stroke-linecap="butt" stroke-linejoin="round"><path d="M67.2 923.4 L73.5 922.2 Q76.7 921.0 77.2 914.5 L77.2 954.5"/><path d="M97.2 923.4 L103.5 922.2 Q106.7 921.0 107.2 914.5 L107.2 954.5"/><ellipse cx="134.2" cy="934.5" rx="11" ry="20.0"/></g>
<g stroke="#111" stroke-width="3.1" fill="none" stroke-linecap="butt" stroke-linejoin="round"><path d="M1134.2 702.9 L1140.5 701.7 Q1143.7 700.4 1144.2 694.0 L1144.2 733.8"/><path d="M1160.7 706.3 C1160.7 698.2 1166.2 694.0 1172.0 694.0 C1178.5 694.0 1183.5 698.4 1183.5 704.6 C1183.5 710.2 1179.8 713.2 1175.8 716.1 L1161.8 727.9 L1160.0 733.8 L1184.5 733.8"/><ellipse cx="1201.2" cy="713.9" rx="11" ry="19.9"/></g>
<g stroke="#111" stroke-width="3.1" fill="none" stroke-linecap="butt" stroke-linejoin="round"><path d="M1168.8 940.9 L1175.0 939.7 Q1178.2 938.4 1178.7 932.0 L1178.7 971.7"/><path d="M1194.8 944.5 C1194.8 936.0 1199.8 932.0 1205.8 932.0 C1212.2 932.0 1216.0 936.4 1216.0 942.1 C1216.0 947.7 1211.8 951.2 1206.2 951.2 L1203.2 951.2 M1206.2 951.2 C1213.2 951.2 1217.5 955.5 1217.5 961.4 C1217.5 967.7 1212.2 971.7 1206.2 971.7 C1199.8 971.7 1194.8 967.7 1194.8 959.9"/><ellipse cx="1235.8" cy="951.9" rx="11" ry="19.8"/></g>
<g stroke="#111" stroke-width="3.1" fill="none" stroke-linecap="butt" stroke-linejoin="round"><path d="M1336.2 1092.8 C1336.2 1084.5 1341.8 1080.2 1347.5 1080.2 C1354.0 1080.2 1359.0 1084.7 1359.0 1091.1 C1359.0 1096.9 1355.2 1099.9 1351.2 1102.9 L1337.2 1115.0 L1335.5 1121.0 L1360.0 1121.0"/><path d="M1366.2 1092.8 C1366.2 1084.5 1371.8 1080.2 1377.5 1080.2 C1384.0 1080.2 1389.0 1084.7 1389.0 1091.1 C1389.0 1096.9 1385.2 1099.9 1381.2 1102.9 L1367.2 1115.0 L1365.5 1121.0 L1390.0 1121.0"/></g>
<g stroke="#111" stroke-width="3.1" fill="none" stroke-linecap="butt" stroke-linejoin="round"><path d="M43.4 1256.0 C43.4 1247.7 49.0 1243.5 54.8 1243.5 C61.2 1243.5 66.2 1247.9 66.2 1254.3 C66.2 1260.0 62.5 1263.0 58.5 1266.0 L44.5 1278.0 L42.8 1284.0 L67.2 1284.0"/><ellipse cx="84.0" cy="1263.8" rx="11" ry="20.2"/><ellipse cx="114.0" cy="1263.8" rx="11" ry="20.2"/></g>
<g stroke="#111" stroke-width="3.1" fill="none" stroke-linecap="butt" stroke-linejoin="round"><path d="M68.8 1436.8 L75.0 1435.6 Q78.2 1434.3 78.8 1428.0 L78.8 1467.7"/><path d="M98.8 1436.8 L105.0 1435.6 Q108.2 1434.3 108.8 1428.0 L108.8 1467.7"/></g>
<g stroke="#111" stroke-width="3.1" fill="none" stroke-linecap="butt" stroke-linejoin="round"><path d="M125.7 1859.3 L131.8 1858.1 Q135.1 1856.7 135.6 1850.0 L135.6 1891.7"/><ellipse cx="162.7" cy="1870.8" rx="11" ry="20.8"/></g>
<g stroke="#111" stroke-width="3.1" fill="none" stroke-linecap="butt" stroke-linejoin="round"><path d="M412.4 2453.7 C412.4 2445.4 418.1 2441.2 423.9 2441.2 C430.2 2441.2 435.2 2445.6 435.2 2452.0 C435.2 2457.6 431.6 2460.6 427.6 2463.6 L413.6 2475.5 L411.9 2481.4 L436.2 2481.4"/><path d="M442.1 2453.9 C442.1 2445.2 447.1 2441.2 453.1 2441.2 C459.6 2441.2 463.4 2445.7 463.4 2451.5 C463.4 2457.1 459.1 2460.7 453.6 2460.7 L450.6 2460.7 M453.6 2460.7 C460.6 2460.7 464.9 2465.1 464.9 2471.0 C464.9 2477.5 459.6 2481.4 453.6 2481.4 C447.1 2481.4 442.1 2477.5 442.1 2469.5"/></g>
</svg>
</body></html>
